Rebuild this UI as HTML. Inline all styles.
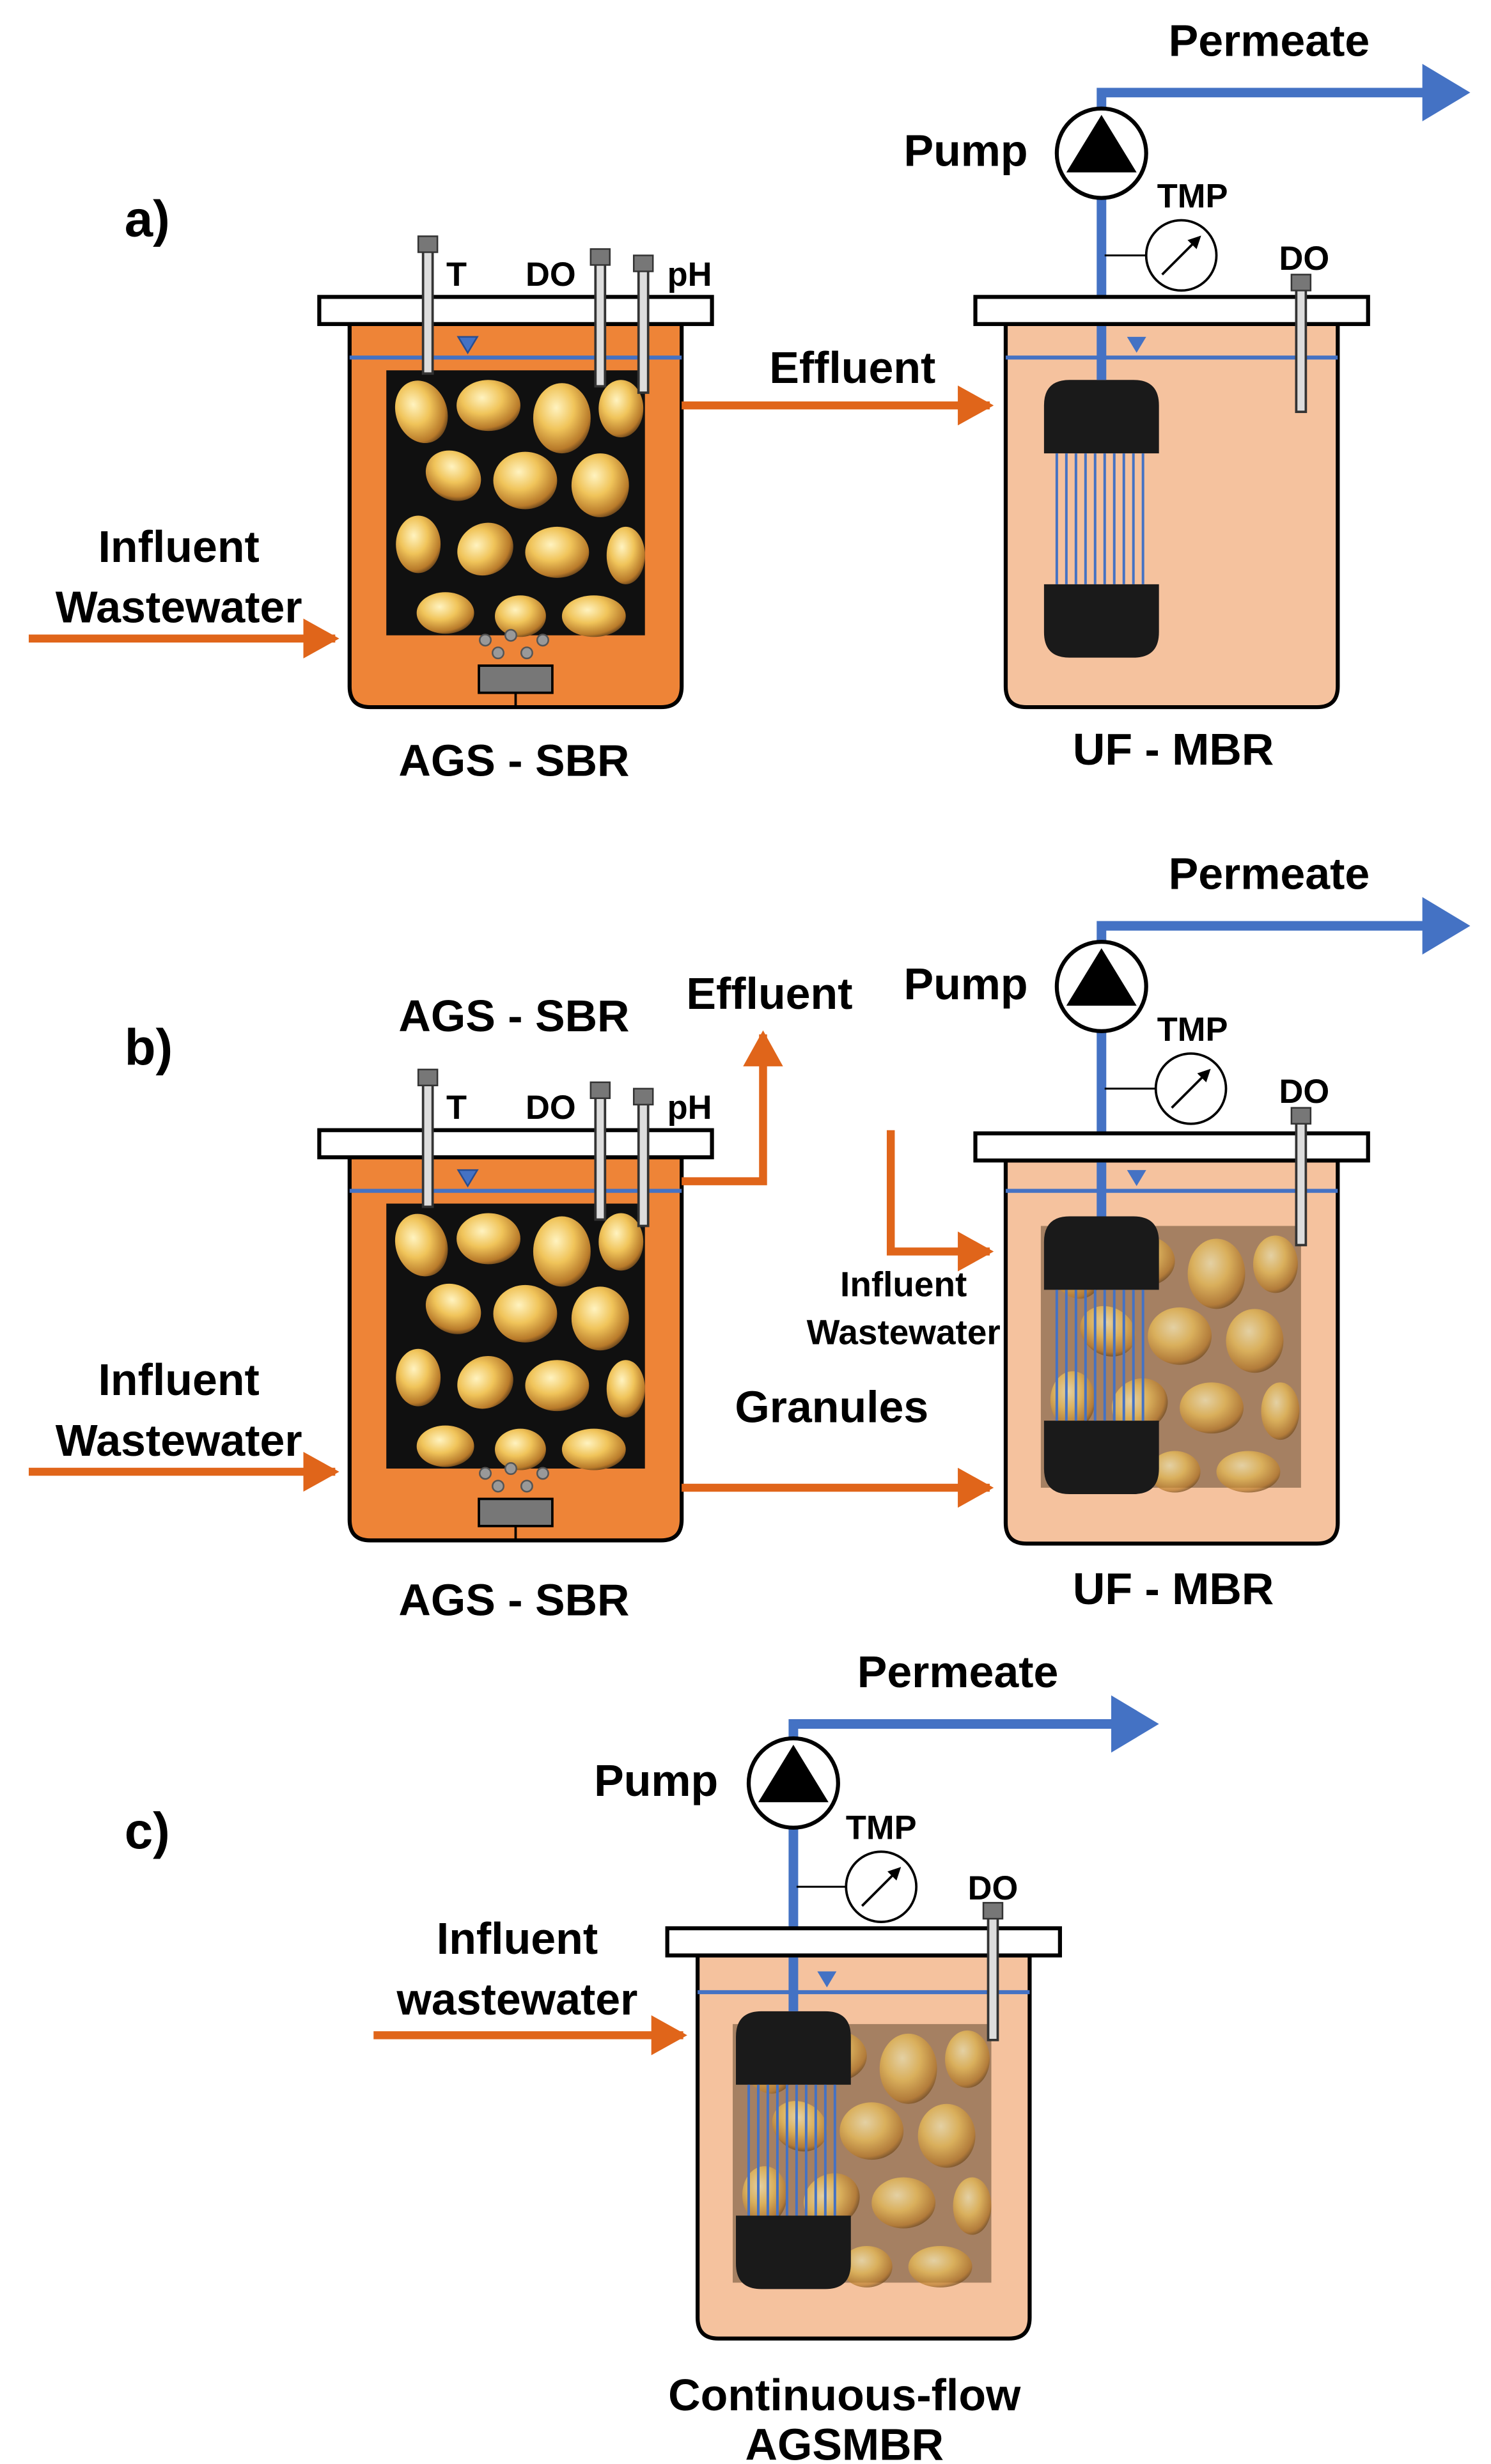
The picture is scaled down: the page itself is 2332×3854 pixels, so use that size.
<!DOCTYPE html>
<html><head><meta charset="utf-8"><style>
html,body{margin:0;padding:0;background:#fff}
svg{display:block}
text{font-family:"Liberation Sans",sans-serif;font-weight:bold;fill:#000}
</style></head><body>
<svg width="2332" height="3854" viewBox="0 0 934 1543.6" xmlns="http://www.w3.org/2000/svg">
<defs>
<radialGradient id="gr" cx="0.4" cy="0.35" r="0.7">
<stop offset="0" stop-color="#fff3c0"/><stop offset="0.45" stop-color="#f0c45a"/><stop offset="0.85" stop-color="#b87a2a"/><stop offset="1" stop-color="#5a3a18"/>
</radialGradient>
<marker id="ao" markerWidth="6" markerHeight="6" refX="4" refY="3" orient="auto" markerUnits="strokeWidth"><path d="M0,0.5 L4.5,3 L0,5.5 z" fill="#E0651A"/></marker>
<marker id="ab" markerWidth="6" markerHeight="6" refX="4" refY="3" orient="auto" markerUnits="strokeWidth"><path d="M0,0 L5,3 L0,6 z" fill="#4472C4"/></marker>
<marker id="ak" markerWidth="8" markerHeight="8" refX="6" refY="4" orient="auto" markerUnits="userSpaceOnUse"><path d="M0,0 L8,4 L0,8 z" fill="#000"/></marker>
<g id="gran">
<ellipse cx="20" cy="22" rx="16" ry="20" fill="url(#gr)" transform="rotate(-20 20 22)"/>
<ellipse cx="62" cy="18" rx="20" ry="16" fill="url(#gr)"/>
<ellipse cx="108" cy="26" rx="18" ry="22" fill="url(#gr)"/>
<ellipse cx="145" cy="20" rx="14" ry="18" fill="url(#gr)"/>
<ellipse cx="40" cy="62" rx="18" ry="15" fill="url(#gr)" transform="rotate(30 40 62)"/>
<ellipse cx="85" cy="65" rx="20" ry="18" fill="url(#gr)"/>
<ellipse cx="132" cy="68" rx="18" ry="20" fill="url(#gr)"/>
<ellipse cx="18" cy="105" rx="14" ry="18" fill="url(#gr)"/>
<ellipse cx="60" cy="108" rx="18" ry="16" fill="url(#gr)" transform="rotate(-30 60 108)"/>
<ellipse cx="105" cy="110" rx="20" ry="16" fill="url(#gr)"/>
<ellipse cx="148" cy="112" rx="12" ry="18" fill="url(#gr)"/>
<ellipse cx="35" cy="148" rx="18" ry="13" fill="url(#gr)"/>
<ellipse cx="82" cy="150" rx="16" ry="13" fill="url(#gr)"/>
<ellipse cx="128" cy="150" rx="20" ry="13" fill="url(#gr)"/>
</g>
<g id="memb">
<path d="M0,46 V16 Q0,0 16,0 H56 Q72,0 72,16 V46 Z" fill="#1a1a1a"/>
<path d="M0,128 V158 Q0,174 16,174 H56 Q72,174 72,158 V128 Z" fill="#1a1a1a"/>
<g stroke="#4472C4" stroke-width="1.6">
<line x1="8" y1="46" x2="8" y2="128"/><line x1="14" y1="46" x2="14" y2="128"/><line x1="20" y1="46" x2="20" y2="128"/><line x1="26" y1="46" x2="26" y2="128"/><line x1="32" y1="46" x2="32" y2="128"/><line x1="38" y1="46" x2="38" y2="128"/><line x1="44" y1="46" x2="44" y2="128"/><line x1="50" y1="46" x2="50" y2="128"/><line x1="56" y1="46" x2="56" y2="128"/><line x1="62" y1="46" x2="62" y2="128"/>
</g>
</g>
<g id="pump"><circle r="28" fill="#fff" stroke="#000" stroke-width="2.5"/><path d="M0,-24 L22,12 L-22,12 Z" fill="#000"/></g>
<g id="gauge"><circle r="22" fill="#fff" stroke="#000" stroke-width="1.5"/><line x1="-12" y1="12" x2="11" y2="-11" stroke="#000" stroke-width="1.5" marker-end="url(#ak)"/></g>
<g id="probe"><rect x="-3" y="0" width="6" height="80" fill="#ddd" stroke="#333" stroke-width="1.5"/><rect x="-6" y="-6" width="12" height="10" fill="#777" stroke="#333"/></g>
<g id="sbr">
<path d="M219,203 V430 Q219,443 232,443 H414 Q427,443 427,430 V203 Z" fill="#EE8437" stroke="#000" stroke-width="2.5"/>
<rect x="242" y="232" width="162" height="166" fill="#101010"/>
<use href="#gran" x="244" y="236"/>
<line x1="219" y1="224" x2="427" y2="224" stroke="#4472C4" stroke-width="2.5"/>
<path d="M287,211 L299,211 L293,221 Z" fill="#4472C4" stroke="#2a4d8f"/>
<rect x="200" y="186" width="246" height="17" fill="#fff" stroke="#000" stroke-width="2.5"/>
<use href="#probe" transform="translate(268,154)"/>
<use href="#probe" transform="translate(376,162)"/>
<use href="#probe" transform="translate(403,166)"/>
<text x="286" y="179" font-size="21" text-anchor="middle">T</text>
<text x="345" y="179" font-size="21" text-anchor="middle">DO</text>
<text x="432" y="179" font-size="21" text-anchor="middle">pH</text>
<g fill="#999" stroke="#555"><circle cx="304" cy="401" r="3.5"/><circle cx="320" cy="398" r="3.5"/><circle cx="340" cy="401" r="3.5"/><circle cx="312" cy="409" r="3.5"/><circle cx="330" cy="409" r="3.5"/></g>
<rect x="300" y="417" width="46" height="17" fill="#777" stroke="#000" stroke-width="1.5"/>
<line x1="323" y1="434" x2="323" y2="443" stroke="#000" stroke-width="1.5"/>
</g>
<g id="tank">
<path d="M0,0 V227 Q0,240 13,240 H195 Q208,240 208,227 V0 Z" fill="#F5C29E" stroke="#000" stroke-width="2.5"/>
</g>
</defs>

<!-- Panel a -->
<text x="78" y="148" font-size="32">a)</text>
<use href="#sbr"/>
<line x1="18" y1="400" x2="210" y2="400" stroke="#E0651A" stroke-width="5" marker-end="url(#ao)"/>
<text x="112" y="352" font-size="28" text-anchor="middle">Influent</text>
<text x="112" y="390" font-size="28" text-anchor="middle">Wastewater</text>
<text x="322" y="486" font-size="28" text-anchor="middle">AGS - SBR</text>
<line x1="427" y1="254" x2="620" y2="254" stroke="#E0651A" stroke-width="5" marker-end="url(#ao)"/>
<text x="534" y="240" font-size="28" text-anchor="middle">Effluent</text>
<use href="#tank" x="630" y="203"/>
<line x1="630" y1="224" x2="838" y2="224" stroke="#4472C4" stroke-width="2.5"/>
<path d="M706,211 L718,211 L712,221 Z" fill="#4472C4"/>
<use href="#memb" x="654" y="238"/>
<polyline points="690,238 690,58 915,58" fill="none" stroke="#4472C4" stroke-width="6" marker-end="url(#ab)"/>
<rect x="611" y="186" width="246" height="17" fill="#fff" stroke="#000" stroke-width="2.5"/>
<use href="#probe" transform="translate(815,178)"/>
<use href="#pump" x="690" y="96"/>
<line x1="692" y1="160" x2="718" y2="160" stroke="#000" stroke-width="1.2"/>
<use href="#gauge" x="740" y="160"/>
<text x="747" y="130" font-size="21" text-anchor="middle">TMP</text>
<text x="817" y="169" font-size="21" text-anchor="middle">DO</text>
<text x="605" y="104" font-size="28" text-anchor="middle">Pump</text>
<text x="795" y="35" font-size="28" text-anchor="middle">Permeate</text>
<text x="735" y="479" font-size="28" text-anchor="middle">UF - MBR</text>

<!-- Panel b -->
<text x="78" y="667" font-size="32">b)</text>
<use href="#sbr" y="522"/>
<text x="322" y="646" font-size="28" text-anchor="middle">AGS - SBR</text>
<line x1="18" y1="922" x2="210" y2="922" stroke="#E0651A" stroke-width="5" marker-end="url(#ao)"/>
<text x="112" y="874" font-size="28" text-anchor="middle">Influent</text>
<text x="112" y="912" font-size="28" text-anchor="middle">Wastewater</text>
<text x="322" y="1012" font-size="28" text-anchor="middle">AGS - SBR</text>
<polyline points="427,740 478,740 478,648" fill="none" stroke="#E0651A" stroke-width="5" marker-end="url(#ao)"/>
<text x="482" y="632" font-size="28" text-anchor="middle">Effluent</text>
<line x1="427" y1="932" x2="620" y2="932" stroke="#E0651A" stroke-width="5" marker-end="url(#ao)"/>
<text x="521" y="891" font-size="28" text-anchor="middle">Granules</text>
<polyline points="558,708 558,784 620,784" fill="none" stroke="#E0651A" stroke-width="5" marker-end="url(#ao)"/>
<text x="566" y="812" font-size="22" text-anchor="middle">Influent</text>
<text x="566" y="842" font-size="22" text-anchor="middle">Wastewater</text>
<use href="#tank" x="630" y="727"/>
<rect x="652" y="768" width="163" height="164" fill="#8a6a4e" opacity="0.75"/>
<use href="#gran" x="654" y="772" opacity="0.7"/>
<line x1="630" y1="746" x2="838" y2="746" stroke="#4472C4" stroke-width="2.5"/>
<path d="M706,733 L718,733 L712,743 Z" fill="#4472C4"/>
<use href="#memb" x="654" y="762"/>
<polyline points="690,762 690,580 915,580" fill="none" stroke="#4472C4" stroke-width="6" marker-end="url(#ab)"/>
<rect x="611" y="710" width="246" height="17" fill="#fff" stroke="#000" stroke-width="2.5"/>
<use href="#probe" transform="translate(815,700)"/>
<use href="#pump" x="690" y="618"/>
<line x1="692" y1="682" x2="724" y2="682" stroke="#000" stroke-width="1.2"/>
<use href="#gauge" x="746" y="682"/>
<text x="747" y="652" font-size="21" text-anchor="middle">TMP</text>
<text x="817" y="691" font-size="21" text-anchor="middle">DO</text>
<text x="605" y="626" font-size="28" text-anchor="middle">Pump</text>
<text x="795" y="557" font-size="28" text-anchor="middle">Permeate</text>
<text x="735" y="1005" font-size="28" text-anchor="middle">UF - MBR</text>

<!-- Panel c -->
<text x="78" y="1158" font-size="32">c)</text>
<line x1="234" y1="1275" x2="428" y2="1275" stroke="#E0651A" stroke-width="5" marker-end="url(#ao)"/>
<text x="324" y="1224" font-size="28" text-anchor="middle">Influent</text>
<text x="324" y="1262" font-size="28" text-anchor="middle">wastewater</text>
<use href="#tank" x="437" y="1225"/>
<rect x="459" y="1268" width="162" height="162" fill="#8a6a4e" opacity="0.75"/>
<use href="#gran" x="461" y="1270" opacity="0.7"/>
<line x1="437" y1="1248" x2="645" y2="1248" stroke="#4472C4" stroke-width="2.5"/>
<path d="M512,1235 L524,1235 L518,1245 Z" fill="#4472C4"/>
<use href="#memb" x="461" y="1260"/>
<polyline points="497,1260 497,1080 720,1080" fill="none" stroke="#4472C4" stroke-width="6" marker-end="url(#ab)"/>
<rect x="418" y="1208" width="246" height="17" fill="#fff" stroke="#000" stroke-width="2.5"/>
<use href="#probe" transform="translate(622,1198)"/>
<use href="#pump" x="497" y="1117"/>
<line x1="499" y1="1182" x2="530" y2="1182" stroke="#000" stroke-width="1.2"/>
<use href="#gauge" x="552" y="1182"/>
<text x="552" y="1152" font-size="21" text-anchor="middle">TMP</text>
<text x="622" y="1190" font-size="21" text-anchor="middle">DO</text>
<text x="411" y="1125" font-size="28" text-anchor="middle">Pump</text>
<text x="600" y="1057" font-size="28" text-anchor="middle">Permeate</text>
<text x="529" y="1510" font-size="28" text-anchor="middle">Continuous-flow</text>
<text x="529" y="1541" font-size="28" text-anchor="middle">AGSMBR</text>
</svg>
</body></html>
